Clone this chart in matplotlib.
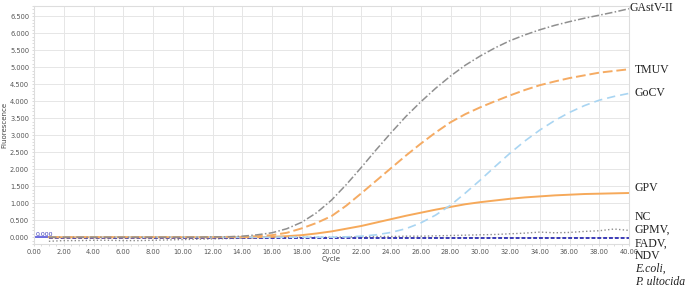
import numpy as np
import matplotlib
matplotlib.use('Agg')
import matplotlib.pyplot as plt
from matplotlib.ticker import MultipleLocator

cycles = list(range(1, 41))

gastv = [0.0, 0.0, 0.0, 0.0, 0.0, 0.0, 0.0, 0.0, 0.0, 0.0, 0.0, 0.01, 0.01, 0.03,
         0.07, 0.13, 0.25, 0.44, 0.72, 1.09, 1.55, 2.05, 2.57, 3.07, 3.55, 3.98,
         4.38, 4.74, 5.06, 5.33, 5.57, 5.78, 5.95, 6.10, 6.23, 6.34, 6.44, 6.53,
         6.62, 6.72]
tmuv = [0.0, 0.0, 0.0, 0.0, 0.0, 0.0, 0.0, 0.0, 0.0, 0.0, 0.0, 0.0, 0.01, 0.01,
        0.03, 0.06, 0.13, 0.26, 0.42, 0.62, 0.93, 1.29, 1.66, 2.03, 2.40, 2.75,
        3.08, 3.38, 3.62, 3.82, 4.00, 4.17, 4.33, 4.47, 4.58, 4.68, 4.76, 4.84,
        4.89, 4.94]
gocv = [0.0, 0.0, 0.0, 0.0, 0.0, 0.0, 0.0, 0.0, 0.0, 0.0, 0.0, 0.0, 0.0, 0.0,
        0.0, 0.0, 0.0, 0.0, 0.0, 0.0, 0.01, 0.03, 0.07, 0.14, 0.25, 0.42, 0.65,
        0.94, 1.30, 1.68, 2.08, 2.47, 2.83, 3.15, 3.43, 3.67, 3.87, 4.03, 4.14,
        4.23]
gpv = [0.0, 0.0, 0.0, 0.0, 0.0, 0.0, 0.0, 0.0, 0.0, 0.0, 0.0, 0.0, 0.0, 0.0,
       0.0, 0.01, 0.03, 0.06, 0.11, 0.17, 0.25, 0.33, 0.43, 0.53, 0.63, 0.72,
       0.81, 0.89, 0.97, 1.03, 1.08, 1.13, 1.17, 1.20, 1.23, 1.25, 1.27, 1.28,
       1.29, 1.30]
nc_gray = [-0.12, -0.10, -0.10, -0.09, -0.09, -0.10, -0.10, -0.09, -0.08, -0.07,
           -0.06, -0.05, -0.04, -0.03, -0.02, -0.01, 0.0, 0.0, 0.0, 0.0, 0.01,
           0.01, 0.02, 0.02, 0.03, 0.03, 0.04, 0.05, 0.06, 0.07, 0.08, 0.10,
           0.12, 0.15, 0.13, 0.14, 0.17, 0.19, 0.24, 0.20]
nc_blue = [-0.02] * 40

labels = ['GAstV-II', 'TMUV', 'GoCV', 'GPV', 'NC', 'GPMV,', 'FADV,', 'NDV',
          'E.coli,', 'P. ultocida']
label_y = [6.74, 4.91, 4.24, 1.44, 0.59, 0.21, -0.18, -0.56, -0.93, -1.31]

fig = plt.figure(figsize=(6.85, 2.87), dpi=100)
ax = fig.add_axes([34 / 685, 43 / 287, 595 / 685, 238 / 287])

ax.plot(cycles, nc_gray, color='#8c8c8c', ls=':', lw=1.0)
ax.plot(cycles, nc_blue, color='#3b3bb8', ls=(0, (2, 1)), lw=1.4)
ax.plot([0, 1], [0, 0], color='#5555dd', lw=1.2)
ax.text(0.1, 0.03, '0.000', color='#3b3bb8', fontsize=4.5)
ax.plot(cycles, gpv, color='#f6a95a', ls='-', lw=1.4)
ax.plot(cycles, gocv, color='#a9d5f2', ls=(0, (5, 3)), lw=1.2)
ax.plot(cycles, tmuv, color='#f5ab63', ls=(0, (5, 2)), lw=1.4)
ax.plot(cycles, gastv, color='#8f8f8f', ls=(0, (5, 1.5, 1, 1.5)), lw=1.1)

ax.set_xlim(0, 40)
ax.set_ylim(-0.2, 6.8)
ax.xaxis.set_major_locator(MultipleLocator(2))
ax.yaxis.set_major_locator(MultipleLocator(0.5))
ax.xaxis.set_minor_locator(MultipleLocator(0.5))
ax.yaxis.set_minor_locator(MultipleLocator(0.1))
ax.xaxis.set_major_formatter(matplotlib.ticker.FormatStrFormatter('%.2f'))
ax.yaxis.set_major_formatter(matplotlib.ticker.FormatStrFormatter('%.3f'))
ax.tick_params(which='both', labelsize=4.8, colors='#cccccc', labelcolor='#555555',
               length=1.5, width=0.5, pad=2)
ax.grid(True, which='major', color='#e6e6e6', lw=0.7)
for s in ax.spines.values():
    s.set_color('#dddddd')
    s.set_linewidth(0.8)
ax.set_xlabel('Cycle', fontsize=5, color='#444444', labelpad=1)
ax.set_ylabel('Fluorescence', fontsize=5, color='#444444', labelpad=2)

for i, (lab, yv) in enumerate(zip(labels, label_y)):
    style = 'italic' if i >= 8 else 'normal'
    ax.text(40.05 if i == 0 else 40.4, yv, lab, fontsize=8.5, family='Liberation Serif',
            style=style, va='center', ha='left', clip_on=False, color='#222222')

fig.savefig('out.png', dpi=100)
